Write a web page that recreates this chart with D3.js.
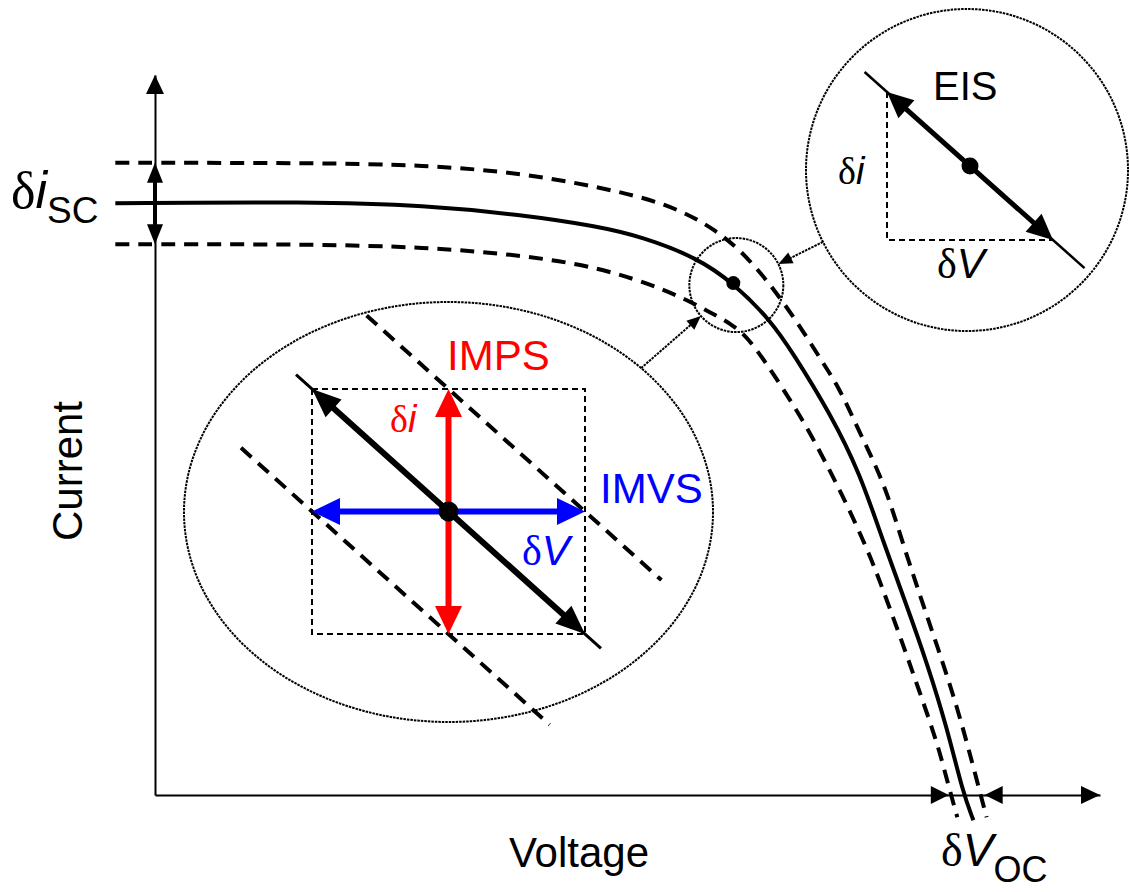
<!DOCTYPE html>
<html>
<head>
<meta charset="utf-8">
<script src="https://cdn.jsdelivr.net/npm/d3@7"></script>
<style>
  body { margin: 0; background: #fff; }
  svg { display: block; }
  text { font-family: "Liberation Sans", Arial, sans-serif; }
  .sym { font-family: "Liberation Serif", "Times New Roman", serif; }
  .it { font-style: italic; }
</style>
</head>
<body>
<svg id="chart" width="1129" height="892"></svg>
<script>
// ---- I–V data (normalised voltage and current) ----
// steady-state curve
const ivVoltage = [-0.042, 0.164, 0.286, 0.387, 0.468, 0.516, 0.574, 0.612, 0.651, 0.675, 0.714, 0.746, 0.770, 0.796, 0.817, 0.838, 0.855, 0.866];
const ivCurrent = [0.822, 0.824, 0.819, 0.806, 0.790, 0.775, 0.746, 0.711, 0.660, 0.614, 0.531, 0.447, 0.354, 0.261, 0.183, 0.094, 0.003, -0.035];
// curve at the top of the light modulation
const upperVoltage = [-0.042, 0.164, 0.286, 0.387, 0.471, 0.542, 0.595, 0.630, 0.658, 0.683, 0.707, 0.725, 0.743, 0.760, 0.775, 0.792, 0.810, 0.828, 0.849, 0.866, 0.880];
const upperCurrent = [0.878, 0.878, 0.875, 0.864, 0.844, 0.822, 0.785, 0.743, 0.697, 0.650, 0.600, 0.563, 0.511, 0.465, 0.419, 0.347, 0.275, 0.206, 0.122, 0.039, -0.031];
// curve at the bottom of the light modulation
const lowerVoltage = [-0.042, 0.164, 0.286, 0.387, 0.471, 0.542, 0.577, 0.612, 0.630, 0.661, 0.690, 0.714, 0.735, 0.757, 0.769, 0.788, 0.807, 0.828, 0.838, 0.849];
const lowerCurrent = [0.765, 0.765, 0.761, 0.750, 0.733, 0.701, 0.678, 0.653, 0.632, 0.572, 0.511, 0.451, 0.396, 0.331, 0.290, 0.222, 0.151, 0.072, 0.021, -0.031];
// operating point and modulation ranges
const opVoltage = 0.612, opCurrent = 0.711;
const iscRange = [0.765, 0.878];
const vocRange = [0.840, 0.878];

// ---- small-signal insets (units of perturbation amplitude) ----
const perturbCorners = [[-1, 1], [1, -1]];          // δV, δi at the two extremes
const slopeReach = [-1.117, 1.117];                  // extent of the local tangent
const shiftedLines = [[1, -0.6, 1.56], [-1, -1.52, 0.74]]; // [δi shift, from δV, to δV]
const eisReach = [-1.27, 1.38];

const axisLabels = ["Voltage", "Current"];
const techniqueLabels = ["IMPS", "IMVS", "EIS"];

const RED = "#ff0000", BLUE = "#0000ff", INK = "#000";
const DOTTED = "2.5,1";

const svg = d3.select("#chart");
const x = d3.scaleLinear().domain([0, 1]).range([155, 1100]);
const y = d3.scaleLinear().domain([0, 1]).range([795, 75]);

// filled triangular arrowhead whose tip sits at `tip`, pointing away from `from`
function arrowHead(g, from, tip, len, wid, color) {
  const dx = tip[0] - from[0], dy = tip[1] - from[1];
  const d = Math.hypot(dx, dy), ux = dx / d, uy = dy / d;
  const bx = tip[0] - ux * len, by = tip[1] - uy * len;
  const px = -uy * wid / 2, py = ux * wid / 2;
  g.append("path")
    .attr("d", `M${tip[0]},${tip[1]}L${bx + px},${by + py}L${bx - px},${by - py}Z`)
    .attr("fill", color);
}
// line shortened at its ends so the arrowhead tips stay sharp
function shaft(g, a, b, trimA, trimB, color, w) {
  const dx = b[0] - a[0], dy = b[1] - a[1], d = Math.hypot(dx, dy);
  const ux = dx / d, uy = dy / d;
  g.append("line")
    .attr("x1", a[0] + ux * trimA).attr("y1", a[1] + uy * trimA)
    .attr("x2", b[0] - ux * trimB).attr("y2", b[1] - uy * trimB)
    .attr("stroke", color).attr("stroke-width", w);
}

// ---- axes ----
const axes = svg.append("g");
axes.append("g").attr("transform", `translate(0,${y(0)})`)
  .call(d3.axisBottom(x).tickValues([]).tickSizeOuter(0));
axes.append("g").attr("transform", `translate(${x(0)},0)`)
  .call(d3.axisLeft(y).tickValues([]).tickSizeOuter(0));
axes.selectAll(".domain").attr("stroke", INK).attr("stroke-width", 2);
arrowHead(axes, [x(0.9), y(0)], [x(1), y(0)], 19, 18, INK);
arrowHead(axes, [x(0), y(0.9)], [x(0), y(1)], 19, 18, INK);

// short-circuit current spread
const iscMid = (iscRange[0] + iscRange[1]) / 2;
shaft(axes, [x(0), y(iscRange[0])], [x(0), y(iscRange[1])], 10, 10, INK, 4);
arrowHead(axes, [x(0), y(iscMid)], [x(0), y(iscRange[1])], 20, 16, INK);
arrowHead(axes, [x(0), y(iscMid)], [x(0), y(iscRange[0])], 20, 16, INK);
// open-circuit voltage spread (arrows point inwards)
arrowHead(axes, [x(vocRange[0]) - 40, y(0)], [x(vocRange[0]), y(0)], 18, 18, INK);
arrowHead(axes, [x(vocRange[1]) + 40, y(0)], [x(vocRange[1]), y(0)], 18, 18, INK);

// ---- I–V curves ----
const line = d3.line().x(d => x(d[0])).y(d => y(d[1])).curve(d3.curveBasis);
const curves = svg.append("g").attr("fill", "none").attr("stroke", INK);
curves.append("path").datum(d3.zip(upperVoltage, upperCurrent)).attr("d", line)
  .attr("stroke-width", 4).attr("stroke-dasharray", "14,9");
curves.append("path").datum(d3.zip(lowerVoltage, lowerCurrent)).attr("d", line)
  .attr("stroke-width", 4).attr("stroke-dasharray", "14,9");
curves.append("path").datum(d3.zip(ivVoltage, ivCurrent)).attr("d", line)
  .attr("stroke-width", 4);

const op = [x(opVoltage), y(opCurrent)];
svg.append("circle").attr("cx", op[0]).attr("cy", op[1]).attr("r", 7).attr("fill", INK);

// magnifier ring around the operating point
const ringR = 47;
const ringC = [op[0] + 3, op[1] + 2];
svg.append("circle").attr("cx", ringC[0]).attr("cy", ringC[1]).attr("r", ringR)
  .attr("fill", "none").attr("stroke", INK).attr("stroke-width", 2).attr("stroke-dasharray", DOTTED);

// ---- IMPS / IMVS inset ----
const big = { cx: 448.5, cy: 512, rx: 264.5, ry: 210 };
const bx = d3.scaleLinear().domain([-1, 1]).range([312, 585]);
const by = d3.scaleLinear().domain([-1, 1]).range([634, 389]);
const gB = svg.append("g");
gB.append("ellipse").attr("cx", big.cx).attr("cy", big.cy).attr("rx", big.rx).attr("ry", big.ry)
  .attr("fill", "#fff").attr("stroke", INK).attr("stroke-width", 2).attr("stroke-dasharray", DOTTED);
gB.append("rect").attr("x", bx(-1)).attr("y", by(1)).attr("width", bx(1) - bx(-1)).attr("height", by(-1) - by(1))
  .attr("fill", "none").attr("stroke", INK).attr("stroke-width", 2).attr("stroke-dasharray", "6,4");
shiftedLines.forEach(([s, a, b]) => {
  gB.append("line").attr("x1", bx(a)).attr("y1", by(s - a)).attr("x2", bx(b)).attr("y2", by(s - b))
    .attr("stroke", INK).attr("stroke-width", 4).attr("stroke-dasharray", "14,9");
});
// local tangent
const tA = [bx(slopeReach[0]), by(-slopeReach[0])], tB = [bx(slopeReach[1]), by(-slopeReach[1])];
shaft(gB, tA, tB, 0, 0, INK, 3);
const c1 = [bx(perturbCorners[0][0]), by(perturbCorners[0][1])];
const c2 = [bx(perturbCorners[1][0]), by(perturbCorners[1][1])];
shaft(gB, c1, c2, 14, 14, INK, 6);
arrowHead(gB, c2, c1, 29, 24, INK);
arrowHead(gB, c1, c2, 29, 24, INK);
// IMPS: current response
const iTop = [bx(0), by(1)], iBot = [bx(0), by(-1)];
shaft(gB, iTop, iBot, 14, 14, RED, 6);
arrowHead(gB, iBot, iTop, 28, 27, RED);
arrowHead(gB, iTop, iBot, 28, 27, RED);
// IMVS: voltage response
const vL = [bx(-1), by(0)], vR = [bx(1), by(0)];
shaft(gB, vL, vR, 14, 14, BLUE, 6);
arrowHead(gB, vR, vL, 28, 27, BLUE);
arrowHead(gB, vL, vR, 28, 27, BLUE);
gB.append("circle").attr("cx", bx(0)).attr("cy", by(0)).attr("r", 10).attr("fill", INK);

gB.append("text").attr("x", 447).attr("y", 370).attr("font-size", 42).attr("fill", RED).text(techniqueLabels[0]);
gB.append("text").attr("x", 600).attr("y", 503).attr("font-size", 42).attr("fill", BLUE).text(techniqueLabels[1]);
const tdi = gB.append("text").attr("x", 390).attr("y", 432).attr("font-size", 38).attr("fill", RED);
tdi.append("tspan").attr("class", "sym").text("δ");
tdi.append("tspan").attr("class", "it").text("i");
const tdv = gB.append("text").attr("x", 522).attr("y", 565).attr("font-size", 42).attr("fill", BLUE);
tdv.append("tspan").attr("class", "sym").text("δ");
tdv.append("tspan").attr("class", "it").text("V");

// ---- EIS inset ----
const eis = { cx: 967, cy: 170, r: 161 };
const ex = d3.scaleLinear().domain([-1, 1]).range([887, 1053]);
const ey = d3.scaleLinear().domain([-1, 1]).range([240, 92]);
const gE = svg.append("g");
gE.append("circle").attr("cx", eis.cx).attr("cy", eis.cy).attr("r", eis.r)
  .attr("fill", "#fff").attr("stroke", INK).attr("stroke-width", 2).attr("stroke-dasharray", DOTTED);
gE.append("path")
  .attr("d", `M${ex(-1)},${ey(1)}V${ey(-1)}H${ex(1)}`)
  .attr("fill", "none").attr("stroke", INK).attr("stroke-width", 2).attr("stroke-dasharray", "6,4");
const eA = [ex(eisReach[0]), ey(-eisReach[0])], eB = [ex(eisReach[1]), ey(-eisReach[1])];
shaft(gE, eA, eB, 0, 0, INK, 2.5);
const e1 = [ex(-1), ey(1)], e2 = [ex(1), ey(-1)];
shaft(gE, e1, e2, 14, 14, INK, 5);
arrowHead(gE, e2, e1, 26, 24, INK);
arrowHead(gE, e1, e2, 26, 24, INK);
gE.append("circle").attr("cx", ex(0)).attr("cy", ey(0)).attr("r", 8.5).attr("fill", INK);
gE.append("text").attr("x", 933).attr("y", 100).attr("font-size", 40).attr("fill", INK).text(techniqueLabels[2]);
const edi = gE.append("text").attr("x", 838).attr("y", 184).attr("font-size", 38);
edi.append("tspan").attr("class", "sym").text("δ");
edi.append("tspan").attr("class", "it").text("i");
const edv = gE.append("text").attr("x", 937).attr("y", 278).attr("font-size", 42);
edv.append("tspan").attr("class", "sym").text("δ");
edv.append("tspan").attr("class", "it").text("V");

// ---- dotted pointers from the insets to the magnifier ring ----
function pointer(start) {
  const dx = ringC[0] - start[0], dy = ringC[1] - start[1], d = Math.hypot(dx, dy);
  const tip = [ringC[0] - dx / d * ringR, ringC[1] - dy / d * ringR];
  svg.append("line").attr("x1", start[0]).attr("y1", start[1]).attr("x2", tip[0] - dx / d * 6).attr("y2", tip[1] - dy / d * 6)
    .attr("stroke", INK).attr("stroke-width", 2).attr("stroke-dasharray", DOTTED);
  arrowHead(svg, start, tip, 14, 12, INK);
}
const eAng = Math.atan2(ringC[1] - eis.cy, ringC[0] - eis.cx);
pointer([eis.cx + eis.r * Math.cos(eAng), eis.cy + eis.r * Math.sin(eAng)]);
const bAng = -0.755;
pointer([big.cx + big.rx * Math.cos(bAng), big.cy + big.ry * Math.sin(bAng)]);

// ---- labels ----
svg.append("text").attr("x", 579).attr("y", 867).attr("font-size", 42).attr("text-anchor", "middle").text(axisLabels[0]);
svg.append("text").attr("transform", "translate(82,471) rotate(-90)").attr("font-size", 42)
  .attr("text-anchor", "middle").text(axisLabels[1]);

const isc = svg.append("text").attr("x", 11).attr("y", 208).attr("font-size", 52);
isc.append("tspan").attr("class", "sym").text("δ");
isc.append("tspan").attr("class", "it").text("i");
isc.append("tspan").attr("font-size", 37).attr("dy", 15).text("SC");

const voc = svg.append("text").attr("x", 941).attr("y", 866).attr("font-size", 46);
voc.append("tspan").attr("class", "sym").text("δ");
voc.append("tspan").attr("class", "it").text("V");
voc.append("tspan").attr("font-size", 36).attr("dy", 16).text("OC");
</script>
</body>
</html>
